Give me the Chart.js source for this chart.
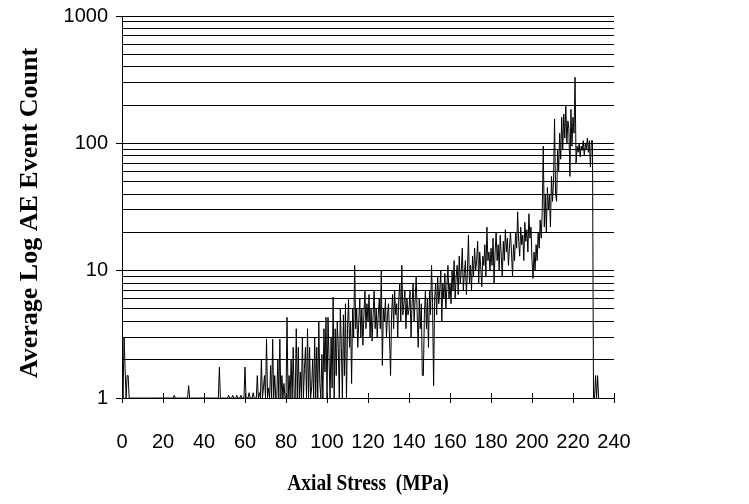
<!DOCTYPE html>
<html>
<head>
<meta charset="utf-8">
<script src="https://cdn.jsdelivr.net/npm/chart.js@4/dist/chart.umd.min.js"></script>
<style>
  html, body { margin: 0; padding: 0; background: #fff; }
  #wrap { width: 749px; height: 504px; }
</style>
</head>
<body>
<div id="wrap"><canvas id="c" width="749" height="504"></canvas></div>
<script>
// Average log AE event count, one reading every 0.5 MPa of axial stress (0 .. 232 MPa)
const sampleStep = 0.5;
const aeCount = [
  2, 1, 3, 1.75, 1, 1.5, 1.5, 1, 1, 1, 1, 1, 1, 1, 1, 1, 1, 1, 1, 1,
  1, 1, 1, 1, 1, 1, 1, 1, 1, 1, 1, 1, 1, 1, 1, 1, 1, 1, 1, 1,
  1, 1, 1, 1, 1, 1, 1, 1, 1, 1, 1, 1.05, 1, 1, 1, 1, 1, 1, 1, 1,
  1, 1, 1, 1, 1, 1.25, 1, 1, 1, 1, 1, 1, 1, 1, 1, 1, 1, 1, 1, 1,
  1, 1, 1, 1, 1, 1, 1, 1, 1, 1, 1, 1, 1, 1, 1, 1.75, 1, 1, 1, 1,
  1, 1, 1, 1, 1.05, 1, 1, 1, 1.05, 1, 1, 1, 1.05, 1, 1, 1, 1.05, 1, 1, 1,
  1.75, 1, 1, 1, 1.1, 1, 1, 1, 1.1, 1, 1, 1, 1.5, 1, 1.1, 1, 2, 1, 1.2, 1.5,
  1, 2.9, 1, 1.2, 1, 1.8, 1, 2.9, 1, 1.5, 1, 1, 2, 1, 2.9, 1, 1.5, 1, 1.3, 1,
  1, 4.3, 1, 1.5, 1, 2, 1, 2.5, 1, 1, 3.5, 1, 2.5, 1, 1.6, 1, 3, 1, 1.7, 2.5,
  1, 3.5, 1, 2.5, 1, 1.2, 2, 1, 3, 1, 2.5, 1, 4, 1.3, 1, 2.2, 1, 3.5, 1.6, 4.3,
  1, 4.3, 2, 1, 3, 1.2, 6.2, 1, 3.5, 1.5, 4, 2.5, 1, 5, 2.5, 1, 4.5, 1.5, 5.5, 1,
  3.5, 6, 2.5, 4, 1.3, 5, 3, 11, 3.5, 5, 2.5, 4, 6, 3, 5, 2.6, 4.5, 7, 3.5, 5.5,
  4, 6.5, 3, 5, 2.8, 4.5, 7, 3.5, 5, 3, 4.5, 6, 3.5, 10, 1.8, 5, 4, 6, 3, 4.5,
  5.5, 3, 1.5, 4.5, 6.5, 3.5, 7, 4.5, 5.5, 3, 6, 8, 4, 11, 4.5, 5.5, 7, 3.5, 6, 4.5,
  5, 7, 3, 5.5, 8, 4, 6, 9, 4.5, 2.5, 6, 3.5, 5.5, 1.5, 1.5, 4.5, 7, 3.5, 6, 2.5,
  7, 4.5, 11, 5.5, 1.25, 6, 8, 4.5, 9, 5.5, 7, 10, 4, 8, 6, 9.5, 5, 7.5, 11, 6,
  8, 5.5, 10, 7, 12, 6, 9, 11, 6.5, 13, 8, 10, 15, 7, 9.5, 12, 6.5, 10, 19, 8,
  11, 7, 13, 9, 15, 10, 12, 17, 8, 14, 10.5, 7.5, 13, 11, 16, 9, 22, 12, 14, 10,
  15, 11, 18, 8, 14, 20, 12, 16, 10, 19, 13, 9, 17, 12, 21, 14, 18, 11, 15, 20,
  14, 9, 16, 12, 20, 15, 29, 17, 13, 22, 16, 19, 12, 24, 17, 21, 14, 28, 18, 22,
  12, 8.7, 14, 10, 16, 12, 20, 15, 25, 18, 30, 95, 22, 40, 20, 45, 30, 40, 22, 55,
  35, 50, 155, 40, 35, 90, 60, 120, 75, 160, 90, 170, 110, 200, 100, 150, 130, 55, 185, 95,
  160, 120, 330, 70, 95, 85, 100, 78, 95, 88, 105, 80, 100, 90, 110, 85, 105, 65, 105, 105,
  1, 1, 1.5, 1, 1.5, 1
];

// Axis ticks
const xMin = 0, xMax = 240, xStep = 20;
const yGridValues = [
  1, 2, 3, 4, 5, 6, 7, 8, 9,
  10, 20, 30, 40, 50, 60, 70, 80, 90,
  100, 200, 300, 400, 500, 600, 700, 800, 900,
  1000
];
const yLabelValues = [1, 10, 100, 1000];

const xTitle = 'Axial Stress  (MPa)';
const yTitle = 'Average Log AE Event Count';

const points = aeCount.map((v, i) => ({ x: i * sampleStep, y: v }));

const tickFont = { family: "'Liberation Sans', Arial, sans-serif", size: 20 };

// Axis titles in bold serif
const axisTitles = {
  id: 'axisTitles',
  afterDraw(chart) {
    const { ctx, chartArea } = chart;
    ctx.save();
    ctx.fillStyle = '#000';
    ctx.textAlign = 'center';
    ctx.textBaseline = 'middle';
    // horizontal title
    ctx.save();
    ctx.font = "bold 19.5px 'Liberation Serif', 'Times New Roman', serif";
    ctx.translate((chartArea.left + chartArea.right) / 2, 484);
    ctx.scale(1, 1.2);
    ctx.fillText(xTitle, 0, 0);
    ctx.restore();
    // vertical title
    ctx.save();
    ctx.font = "bold 26px 'Liberation Serif', 'Times New Roman', serif";
    ctx.translate(30, 213);
    ctx.rotate(-Math.PI / 2);
    ctx.fillText(yTitle, 0, 0);
    ctx.restore();
    ctx.restore();
  }
};

// X ticks cross the axis line: add the part above it
const crossTicks = {
  id: 'crossTicks',
  afterDraw(chart) {
    const { ctx, chartArea } = chart;
    const xs = chart.scales.x;
    ctx.save();
    ctx.strokeStyle = '#000';
    ctx.lineWidth = 1;
    ctx.beginPath();
    for (let v = xMin; v <= xMax; v += xStep) {
      const px = Math.round(xs.getPixelForValue(v)) + 0.5;
      ctx.moveTo(px, chartArea.bottom);
      ctx.lineTo(px, chartArea.bottom - 5);
    }
    ctx.stroke();
    ctx.restore();
  }
};

new Chart(document.getElementById('c'), {
  type: 'line',
  data: {
    datasets: [{
      data: points,
      borderColor: '#000',
      borderWidth: 1,
      pointRadius: 0,
      tension: 0,
      fill: false
    }]
  },
  options: {
    responsive: false,
    animation: false,
    events: [],
    layout: { padding: { top: 16, right: 135, left: 0, bottom: 0 } },
    plugins: { legend: { display: false }, tooltip: { enabled: false } },
    scales: {
      x: {
        type: 'linear',
        min: xMin,
        max: xMax,
        ticks: {
          stepSize: xStep,
          font: tickFont,
          color: '#000',
          padding: 27,
          maxRotation: 0
        },
        grid: { drawOnChartArea: false, color: '#000', tickLength: 5 },
        border: { color: '#000', width: 1 },
        afterFit: s => { s.height = 106; s.paddingLeft = 0; s.paddingRight = 0; }
      },
      y: {
        type: 'logarithmic',
        min: 1,
        max: 1000,
        afterBuildTicks: s => { s.ticks = yGridValues.map(v => ({ value: v })); },
        ticks: {
          autoSkip: false,
          font: tickFont,
          color: '#000',
          padding: 8,
          callback: v => (yLabelValues.includes(v) ? String(v) : '')
        },
        grid: {
          color: '#000',
          tickLength: 6,
          tickColor: c => (c.tick && yLabelValues.includes(c.tick.value) ? '#000' : 'rgba(0,0,0,0)')
        },
        border: { color: '#000', width: 1 },
        afterFit: s => { s.width = 122; s.paddingTop = 0; s.paddingBottom = 0; }
      }
    }
  },
  plugins: [axisTitles, crossTicks]
});
</script>
</body>
</html>
